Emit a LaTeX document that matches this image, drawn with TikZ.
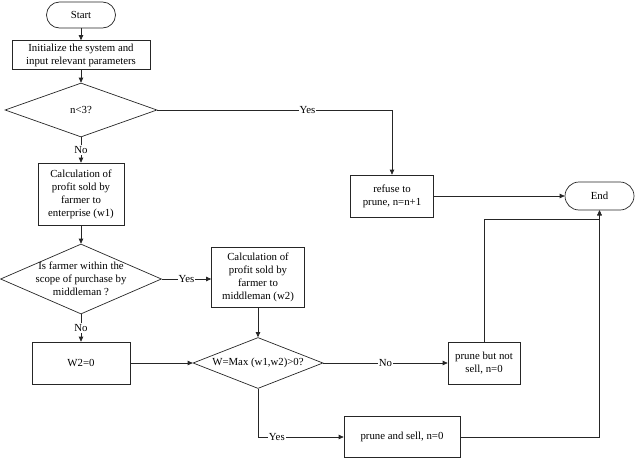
\documentclass[tikz,border=0pt]{standalone}
\usepackage{fontspec}
\setmainfont{Liberation Serif}
\usepackage{tikz}
\usetikzlibrary{positioning,arrows.meta,shapes.geometric}

\begin{document}
\begin{tikzpicture}[
x=1pt, y=-1pt,
font=\fontsize{10.8}{13}\selectfont,
terminal/.style={
    rectangle,
    rounded corners=13pt,
    minimum width=69pt,
    minimum height=26pt,
    draw=black!85,
    line width=0.7pt,
    align=center
},
box/.style={
    rectangle,
    draw=black!85,
    line width=0.7pt,
    inner sep=2pt,
    align=center
},
decision/.style={
    diamond,
    draw=black!85,
    line width=0.7pt,
    inner sep=-2.5pt,
    align=center
},
line/.style={
    -{Triangle[length=5pt,width=4.5pt]},
    draw=black!85,
    line width=0.7pt
},
lbl/.style={
    fill=white,
    inner sep=1pt
}
]
\useasboundingbox (0,0) rectangle (635,458);

% Left column
\node[terminal] (start) at (81,15) {Start};

\node[box,minimum width=138pt,minimum height=29pt] (init) at (81,55)
{Initialize the system and\\input relevant parameters};

\node[decision,minimum width=152pt,minimum height=54pt,shape aspect=2.8] (checkn) at (81,110)
{n<3?};

\node[box,minimum width=86pt,minimum height=62pt] (calcw1) at (81,194)
{Calculation of\\profit sold by\\farmer to\\enterprise (w1)};

\node[decision,minimum width=161pt,minimum height=70pt,shape aspect=2.3] (inscope) at (81,279)
{Is farmer within the\\scope of purchase by\\middleman ?};

\node[box,minimum width=98pt,minimum height=42pt] (wzero) at (81,363)
{W2=0};

% Middle column
\node[box,minimum width=93pt,minimum height=60pt] (calcw2) at (258,277)
{Calculation of\\profit sold by\\farmer to\\middleman (w2)};

\node[decision,minimum width=130pt,minimum height=51pt,shape aspect=2.55] (maxw) at (258,363)
{W=Max (w1,w2)>0?};

% Right side
\node[box,minimum width=83pt,minimum height=42pt] (refuse) at (392,196)
{refuse to\\prune, n=n+1};

\node[box,minimum width=72pt,minimum height=42pt] (notsell) at (484,363)
{prune but not\\sell, n=0};

\node[box,minimum width=116pt,minimum height=41pt] (sell) at (402,437)
{prune and sell, n=0};

\node[terminal,minimum width=69pt,minimum height=28pt,rounded corners=14pt] (stop) at (599.5,196)
{End};

% Connections
\draw[line] (start) -- (init);
\draw[line] (init) -- (checkn);
\draw[line] (checkn) -- node[lbl] {No} (calcw1);
\draw[line] (checkn.east) -| node[lbl,pos=0.32] {Yes} (refuse);

\draw[line] (calcw1) -- (inscope);
\draw[line] (inscope.east) -- node[lbl] {Yes} (inscope.east -| calcw2.west);
\draw[line] (inscope) -- node[lbl] {No} (wzero);

\draw[line] (wzero) -- (maxw);
\draw[line] (calcw2) -- (maxw);
\draw[line] (maxw) -- node[lbl] {No} (notsell);
\draw[line] (maxw.south) |- node[lbl,pos=0.61] {Yes} (sell);

\draw[line] (refuse) -- (stop);
\draw[line] (notsell.north) -- ++(0,-122) -| (stop.south);
\draw[line] (sell) -| (stop.south);

\end{tikzpicture}
\end{document}
